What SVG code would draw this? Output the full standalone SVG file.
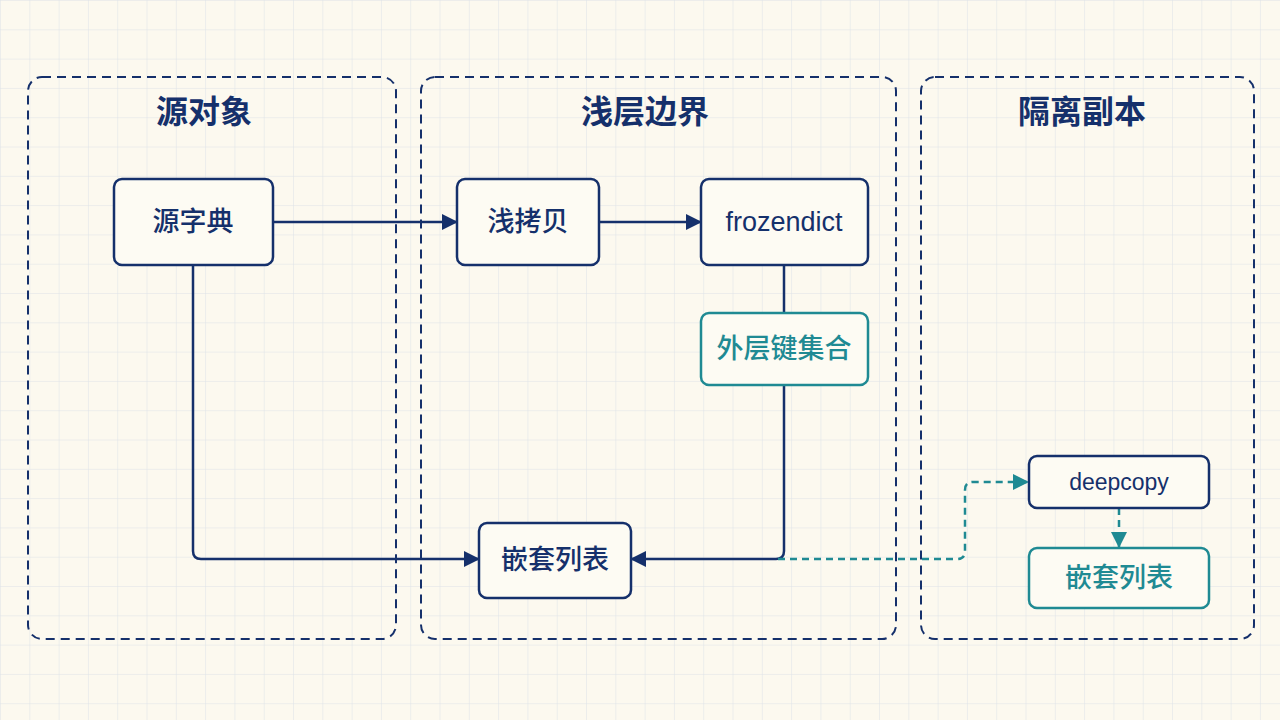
<svg xmlns="http://www.w3.org/2000/svg" width="1280" height="720" viewBox="0 0 1280 720">
<defs>
<pattern id="grid" width="29.3" height="29.3" patternUnits="userSpaceOnUse" x="1" y="1"><path d="M29.3 0V29.3M0 29.3H29.3" fill="none" stroke="#dde2e8" stroke-width="1"/></pattern>
<marker id="ah" markerWidth="16" markerHeight="16" refX="15" refY="8" orient="auto" markerUnits="userSpaceOnUse" viewBox="0 0 16 16"><path d="M0 0L16 8L0 16z" fill="#15306b"/></marker>
<marker id="at" markerWidth="16" markerHeight="16" refX="15" refY="8" orient="auto" markerUnits="userSpaceOnUse" viewBox="0 0 16 16"><path d="M0 0L16 8L0 16z" fill="#1f8a93"/></marker>
<style>
.grp{fill:none;stroke:#15306b;stroke-width:2;stroke-dasharray:9 6}
.t{font-family:"Noto Sans CJK SC","Noto Sans",sans-serif;font-weight:700;font-size:32px;fill:#15306b;text-anchor:middle}
.n rect{fill:#fdfbf3;stroke:#15306b;stroke-width:2.5}
.n text{font-family:"Liberation Sans","Noto Sans CJK SC",sans-serif;font-weight:500;font-size:27px;fill:#15306b;text-anchor:middle;dominant-baseline:central}
.c rect{stroke:#1f8a93}
.c text{fill:#1f8a93}
.l{fill:none;stroke:#15306b;stroke-width:2.5}
.d{fill:none;stroke:#1f8a93;stroke-width:2.5;stroke-dasharray:7 5}
</style>
</defs>
<rect width="1280" height="720" fill="#fcf9ef"/>
<rect width="1280" height="720" fill="url(#grid)"/>
<g id="groups">
<rect class="grp" x="28" y="77" width="368" height="562" rx="14"/>
<rect class="grp" x="421" y="77" width="475" height="562" rx="14"/>
<rect class="grp" x="921" y="77" width="333" height="562" rx="14"/>
<text class="t" x="204" y="123">源对象</text>
<text class="t" x="645" y="123">浅层边界</text>
<text class="t" x="1082" y="123">隔离副本</text>
</g>
<g id="connectors">
<path class="l" d="M273 222H457" marker-end="url(#ah)"/>
<path class="l" d="M599 222H701" marker-end="url(#ah)"/>
<path class="l" d="M784 265V313"/>
<path class="l" d="M784 385V551Q784 559 776 559H631" marker-end="url(#ah)"/>
<path class="l" d="M193 265V551Q193 559 201 559H479" marker-end="url(#ah)"/>
<path class="d" d="M778 559H957Q965 559 965 551V490Q965 482 973 482H1028" marker-end="url(#at)"/>
<path class="d" d="M1119 508V547" marker-end="url(#at)"/>
</g>
<g id="n1" class="n"><rect x="114" y="179" width="159" height="86" rx="8"/><text x="193" y="222">源字典</text></g>
<g id="n2" class="n"><rect x="457" y="179" width="142" height="86" rx="8"/><text x="528" y="222">浅拷贝</text></g>
<g id="n3" class="n"><rect x="701" y="179" width="167" height="86" rx="8"/><text x="784" y="222">frozendict</text></g>
<g id="n4" class="n c"><rect x="701" y="313" width="167" height="72" rx="8"/><text x="784" y="349">外层键集合</text></g>
<g id="n5" class="n"><rect x="479" y="523" width="152" height="75" rx="8"/><text x="555" y="560">嵌套列表</text></g>
<g id="n6" class="n"><rect x="1029" y="456" width="180" height="52" rx="8"/><text x="1119" y="482" style="font-size:23px">deepcopy</text></g>
<g id="n7" class="n c"><rect x="1029" y="548" width="180" height="60" rx="8"/><text x="1119" y="578">嵌套列表</text></g>
</svg>
